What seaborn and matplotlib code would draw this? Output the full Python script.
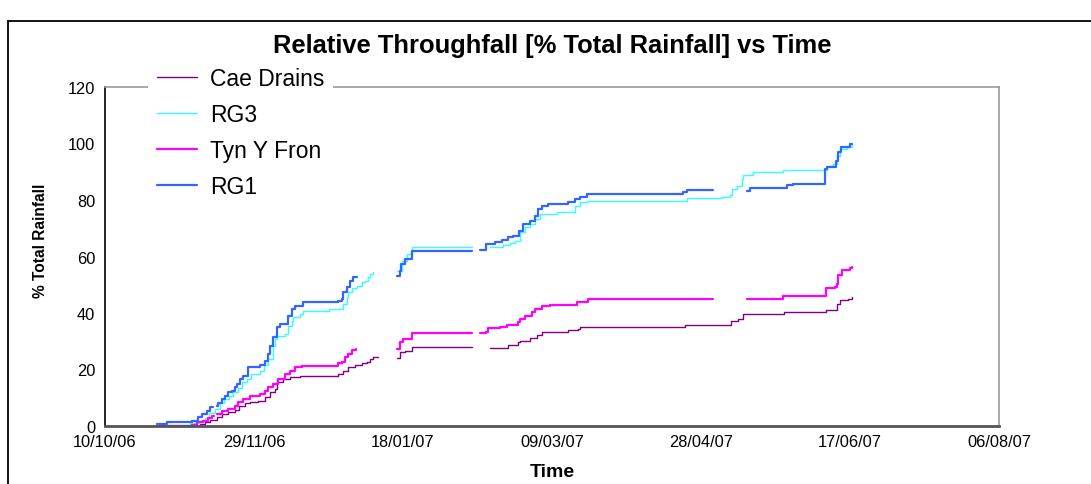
import numpy as np
import pandas as pd
import matplotlib
matplotlib.use("Agg")
import matplotlib.pyplot as plt
import matplotlib.dates as mdates
from matplotlib.lines import Line2D
from matplotlib.patches import Rectangle
import seaborn as sns

# Cumulative throughfall as % of total rainfall; x = days after START, None = logger gap
START = "2006-10-10"

cae_days = [18.5, 31.9, 33.6, 35.2, 37.5, 39.1, 41.4, 43.6, 45.0, 47.0, 48.7, 51.4, 53.7, 55.4,
            57.0, 57.6, 59.8, 62.1, 65.4, 78.3, 80.0, 81.6, 83.9, 86.1, 87.8, 88.9, 90.0, 91.7,
            None, 97.9, 99.0, 100.7, 102.9, 123.0,
            None, 129.2, 135.3, 138.7, 139.3, 142.6, 144.8, 146.5, 155.5, 158.8, 159.4, 194.6,
            210.0, 212.5, 214.2, 228.0, 241.9, 245.5, 246.6, 249.4, 250.8]
cae_vals = [0.0, 0.7, 1.3, 2.1, 3.1, 4.2, 5.1, 5.8, 7.2, 8.0, 8.6, 9.0, 10.1, 11.9,
            13.1, 15.4, 16.6, 17.2, 17.8, 18.4, 19.6, 20.8, 21.6, 22.3, 22.8, 23.7, 24.3, 24.3,
            None, 24.0, 26.1, 26.7, 27.8, 27.8,
            None, 27.7, 28.8, 29.6, 30.2, 31.0, 32.2, 33.4, 34.0, 34.3, 35.1, 35.8,
            37.3, 37.9, 39.6, 40.2, 41.2, 43.2, 44.7, 45.0, 45.5]

rg3_days = [17.3, 28.5, 31.9, 33.5, 35.0, 37.0, 38.6, 40.0, 41.5, 43.0, 44.5, 46.0, 47.5, 49.0,
            52.0, 53.5, 54.8, 56.5, 57.0, 57.6, 60.4, 61.5, 62.6, 63.2, 65.4, 66.5, 75.0, 80.0,
            81.1, 81.6, 82.8, 84.5, 86.1, 87.2, 88.4, 88.9, 89.8,
            None, 97.9, 99.5, 101.2, 102.9, 123.0,
            None, 129.2, 133.7, 135.9, 137.6, 139.3, 141.0, 142.6, 144.3, 146.0, 151.6, 157.7,
            159.4, 162.2, 193.0, 195.2, 206.9, 209.7, 210.3, 212.0, 213.6, 214.2, 217.6, 227.6,
            242.2, 244.4, 245.5, 246.6, 248.9, 250.8]
rg3_vals = [0.5, 1.0, 1.9, 3.0, 4.5, 6.0, 8.3, 9.5, 10.7, 11.9, 13.5, 15.5, 16.6, 18.5,
            19.6, 21.5, 23.7, 28.4, 30.8, 32.0, 32.6, 35.5, 37.3, 38.5, 39.6, 40.8, 41.4, 43.2,
            45.5, 47.3, 48.7, 49.7, 50.9, 51.4, 52.6, 53.8, 54.6,
            None, 55.0, 58.5, 60.9, 63.2, 63.2,
            None, 63.4, 64.1, 64.8, 65.6, 68.5, 70.3, 71.5, 73.3, 75.0, 75.6, 78.0,
            79.2, 79.5, 79.8, 80.6, 80.9, 81.8, 83.9, 85.0, 87.4, 88.8, 89.8, 90.7,
            92.1, 92.7, 95.7, 98.0, 98.9, 100.0]

tyn_days = [18.5, 29.1, 30.8, 33.0, 34.7, 35.8, 36.7,
            None, 37.5, 39.1, 41.4, 43.6, 44.7, 46.4, 48.7, 52.0, 53.7, 54.8, 56.5, 58.2, 60.4,
            62.1, 63.8, 66.0, 78.3, 79.4, 80.5, 81.6, 82.8, 84.2,
            None, 97.9, 99.0, 100.1, 102.9, 123.0,
            None, 125.8, 128.0, 128.6, 132.6, 134.8, 138.7, 139.3, 140.9, 143.2, 144.3, 146.5,
            149.3, 158.3, 162.2, 203.9,
            None, 215.3, 227.6, 241.9, 245.0, 245.5, 246.1, 247.2, 250.0, 250.8]
tyn_vals = [0.1, 0.5, 1.3, 1.9, 2.7, 3.6, 3.6,
            None, 4.2, 5.4, 6.0, 7.2, 8.6, 9.6, 10.7, 11.3, 12.5, 13.7, 14.9, 16.6, 18.4,
            19.6, 20.8, 21.3, 22.3, 22.8, 24.3, 25.5, 27.0, 27.3,
            None, 27.3, 29.6, 30.8, 32.8, 32.8,
            None, 32.8, 33.2, 34.6, 34.9, 35.8, 36.7, 37.9, 39.0, 40.2, 41.4, 42.4,
            42.8, 44.0, 45.0, 45.0,
            None, 45.0, 46.1, 48.9, 49.1, 50.3, 53.5, 55.3, 55.9, 56.4]

rg1_days = [17.3, 20.7, 29.1, 31.3, 32.4, 34.1, 35.2, 36.1,
            None, 37.5, 38.0, 39.1, 40.3, 41.4, 42.5, 43.6, 44.4, 45.3, 46.4, 48.1, 52.0, 53.7,
            54.8, 55.4, 56.5, 57.6, 58.7, 61.5, 62.6, 63.8, 66.5, 78.3, 79.4, 80.0, 81.1, 82.2,
            83.1, 84.5,
            None, 97.9, 99.0, 99.2, 100.7, 102.9, 123.0,
            None, 125.8, 128.0, 130.9, 133.1, 135.3, 137.0, 139.0, 140.4, 142.6, 144.3, 145.4,
            146.5, 148.8, 155.5, 157.7, 159.4, 161.6, 194.0, 195.2, 203.9,
            None, 215.3, 216.4, 228.8, 231.0, 241.6, 242.2, 245.3, 246.1, 247.0, 250.0, 250.8]
rg1_vals = [0.7, 1.3, 1.9, 3.1, 4.2, 5.4, 6.6, 6.6,
            None, 7.2, 8.3, 9.6, 10.7, 11.9, 12.5, 13.7, 14.9, 16.6, 17.8, 20.8, 21.6, 23.1,
            25.5, 28.4, 31.4, 34.9, 36.1, 39.0, 41.4, 42.6, 43.8, 44.4, 45.0, 47.3, 49.1, 51.4,
            52.6, 52.9,
            None, 53.2, 55.0, 57.3, 59.1, 62.1, 62.1,
            None, 62.3, 64.4, 65.0, 65.8, 66.8, 67.4, 69.1, 71.5, 72.7, 74.4, 76.8,
            78.0, 78.6, 79.2, 80.4, 80.9, 82.3, 82.7, 83.5, 83.5,
            None, 83.3, 84.1, 85.3, 85.7, 91.0, 91.6, 93.9, 96.9, 98.9, 99.8, 100.0]

series_names = ["Cae Drains", "RG3", "Tyn Y Fron", "RG1"]
series_days = [cae_days, rg3_days, tyn_days, rg1_days]
series_vals = [cae_vals, rg3_vals, tyn_vals, rg1_vals]
colors = {"Cae Drains": "#800080", "RG3": "#33FFFF", "Tyn Y Fron": "#FF00FF", "RG1": "#3366FF"}
widths = {"Cae Drains": 1.0, "RG3": 1.0, "Tyn Y Fron": 1.6, "RG1": 1.6}

x_ticks = pd.date_range(START, periods=7, freq="50D")


def to_frame(name, days, vals):
    rows, seg = [], 0
    for d, v in zip(days, vals):
        if d is None:
            seg += 1
            continue
        rows.append((pd.Timestamp(START) + pd.Timedelta(days=d), v, name, seg))
    return pd.DataFrame(rows, columns=["date", "value", "series", "seg"])


sns.set_theme(style="white")
plt.rcParams["font.family"] = ["Liberation Sans", "DejaVu Sans"]
plt.rcParams["text.color"] = "black"
plt.rcParams["axes.labelcolor"] = "black"
plt.rcParams["xtick.color"] = "black"
plt.rcParams["ytick.color"] = "black"

fig = plt.figure(figsize=(10.91, 4.85), dpi=100)
ax = fig.add_axes([105 / 1091, 1 - 427 / 485, (999 - 105) / 1091, (427 - 88) / 485])

for name, days, vals in zip(series_names, series_days, series_vals):
    df = to_frame(name, days, vals)
    sns.lineplot(data=df, x="date", y="value", units="seg", estimator=None,
                 color=colors[name], lw=widths[name], drawstyle="steps-post", ax=ax)

ax.set_xlim(x_ticks[0], x_ticks[-1])
ax.set_ylim(0, 120)
ax.set_xticks(x_ticks)
ax.xaxis.set_major_formatter(mdates.DateFormatter("%d/%m/%y"))
ax.set_yticks(np.arange(0, 121, 20))

ax.tick_params(axis="both", which="major", direction="out", length=5, width=1,
               color="black", labelsize=11.8, labelcolor="black")
ax.tick_params(axis="y", pad=2)
ax.tick_params(axis="x", pad=1)

for side in ["top", "right"]:
    ax.spines[side].set_color("#999999")
    ax.spines[side].set_linewidth(1.2)
ax.spines["left"].set_color("black")
ax.spines["left"].set_linewidth(1.2)
ax.spines["bottom"].set_color("#555555")
ax.spines["bottom"].set_linewidth(2.0)

ax.set_title("Relative Throughfall [% Total Rainfall] vs Time", fontsize=18.4,
             fontweight="bold", pad=25, color="black")
ax.set_xlabel("Time", fontsize=14, fontweight="bold")
ax.xaxis.set_label_coords(0.5, -(464 - 427) / 339)
ax.set_ylabel("% Total Rainfall", fontsize=11.2, fontweight="bold")
ax.yaxis.set_label_coords((48 - 105) / 894, (427 - 241) / 339)

handles = [Line2D([], [], color=colors[n], lw=widths[n]) for n in series_names]
leg = ax.legend(handles, series_names, loc="upper left",
                bbox_to_anchor=(148 / 1091, 1 - 59 / 485), bbox_transform=fig.transFigure,
                fontsize=16.5, frameon=True, facecolor="white", edgecolor="none",
                framealpha=1, fancybox=False, handlelength=1.75, handletextpad=0.55,
                labelspacing=0.56, borderpad=0.4, borderaxespad=0)
for t in leg.get_texts():
    t.set_color("black")

fig.add_artist(Rectangle((8 / 1091, -0.5), 2, (1 - 22 / 485) + 0.5, transform=fig.transFigure,
                         fill=False, edgecolor="black", lw=1.3, clip_on=False))

fig.savefig("out.png", dpi=100, facecolor="white")
